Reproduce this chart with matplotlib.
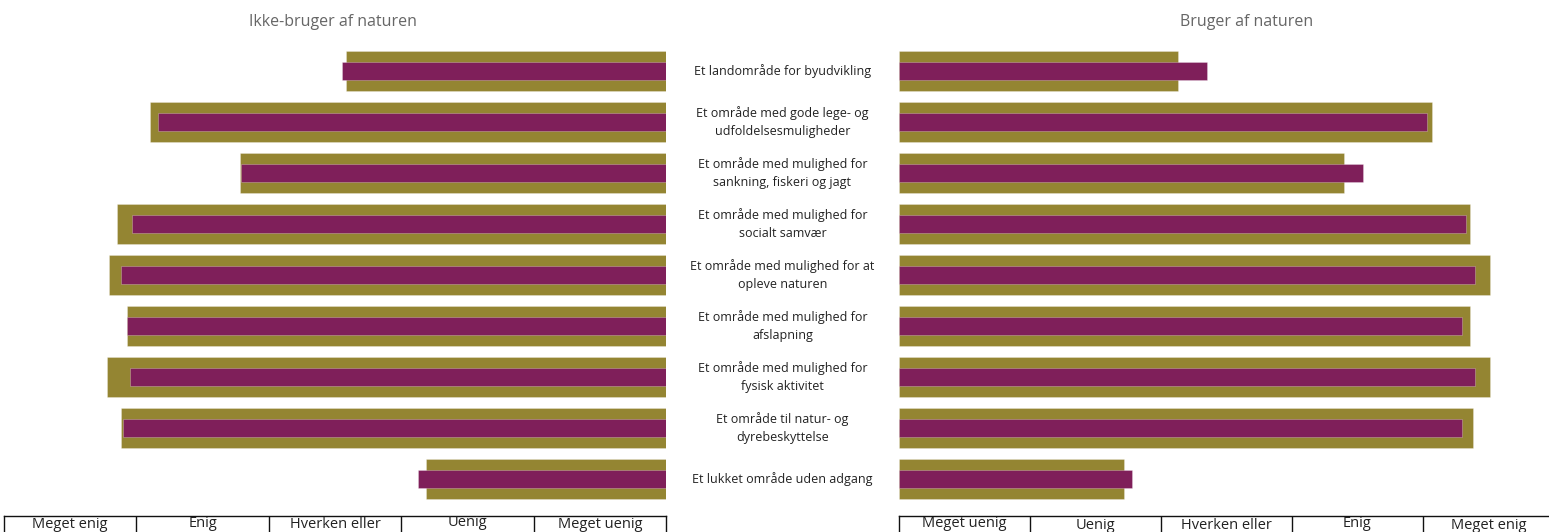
import matplotlib.pyplot as plt
from matplotlib import transforms

plt.rcParams['font.family'] = ['Open Sans', 'DejaVu Sans']

labels = ['Et landområde for byudvikling',
          'Et område med gode lege- og\nudfoldelsesmuligheder',
          'Et område med mulighed for\nsankning, fiskeri og jagt',
          'Et område med mulighed for\nsocialt samvær',
          'Et område med mulighed for at\nopleve naturen',
          'Et område med mulighed for\nafslapning',
          'Et område med mulighed for\nfysisk aktivitet',
          'Et område til natur- og\ndyrebeskyttelse',
          'Et lukket område uden adgang']

# Ikke-bruger af naturen
left_gold = [2.42, 3.90, 3.22, 4.15, 4.21, 4.07, 4.22, 4.12, 1.81]
left_purple = [2.45, 3.84, 3.21, 4.03, 4.12, 4.07, 4.05, 4.10, 1.87]
# Bruger af naturen
right_gold = [2.13, 4.07, 3.40, 4.36, 4.51, 4.36, 4.51, 4.38, 1.72]
right_purple = [2.35, 4.03, 3.54, 4.33, 4.40, 4.30, 4.40, 4.30, 1.78]

left_scale = ['Meget enig', 'Enig', 'Hverken eller', 'Uenig', 'Meget uenig']
right_scale = ['Meget uenig', 'Uenig', 'Hverken eller', 'Enig', 'Meget enig']

gold = '#948532'
purple = '#7f1f5a'
edge = (1, 1, 1, 0.3)

W, H = 1549, 532
fig = plt.figure(figsize=(W / 100, H / 100), dpi=100)

bot = 1 - 504.5 / H
hgt = 459 / H
ax_l = fig.add_axes([4 / W, bot, 662 / W, hgt])
ax_r = fig.add_axes([899 / W, bot, 655 / W, hgt])

ypos = list(range(len(labels)))
for ax, g, p in [(ax_l, left_gold, left_purple), (ax_r, right_gold, right_purple)]:
    ax.barh(ypos, g, height=0.765, color=gold, edgecolor=edge, linewidth=0.6)
    ax.barh(ypos, p, height=0.353, color=purple, edgecolor=edge, linewidth=0.6)
    ax.set_ylim(8.5, -0.5)
    ax.axis('off')
ax_l.set_xlim(5, 0)
ax_r.set_xlim(0, 5)

# category labels in the middle
tr = transforms.blended_transform_factory(fig.transFigure, ax_l.transData)
for y, lab in zip(ypos, labels):
    fig.text(782.5 / W, y, lab, transform=tr, ha='center', va='center',
             fontsize=9, color='#222222', linespacing=1.55)

fig.text(333 / W, 1 - 22 / H, 'Ikke-bruger af naturen', ha='center', va='center',
         fontsize=11.5, color='#666666')
fig.text(1247 / W, 1 - 22 / H, 'Bruger af naturen', ha='center', va='center',
         fontsize=11.5, color='#666666')

# scale "table" at the bottom (it runs past the lower edge, as in the original)
tb = 1 - 560 / H
th = 44 / H
t_l = fig.add_axes([4 / W, tb, 662 / W, th])
t_r = fig.add_axes([899 / W, tb, 655 / W, th])
left_base = [528, 527, 528, 526, 528]
right_base = [527, 529, 529, 527, 529]
for t, lim, names, base in [(t_l, (5, 0), left_scale, left_base),
                            (t_r, (0, 5), right_scale, right_base)]:
    t.set_xlim(*lim)
    t.set_ylim(560, 516)
    t.set_xticks([])
    t.set_yticks([])
    t.spines['bottom'].set_visible(False)
    for s in ['top', 'left', 'right']:
        t.spines[s].set_linewidth(1)
        t.spines[s].set_color('#111111')
    for k in range(1, 5):
        t.axvline(k, color='#111111', lw=1)
    for i, (name, b) in enumerate(zip(names, base)):
        c = i + 0.5 if lim[0] == 0 else 4.5 - i
        t.text(c, b, name, ha='center', va='baseline', fontsize=10.5, color='#222222')

fig.savefig('out.png', dpi=100)
